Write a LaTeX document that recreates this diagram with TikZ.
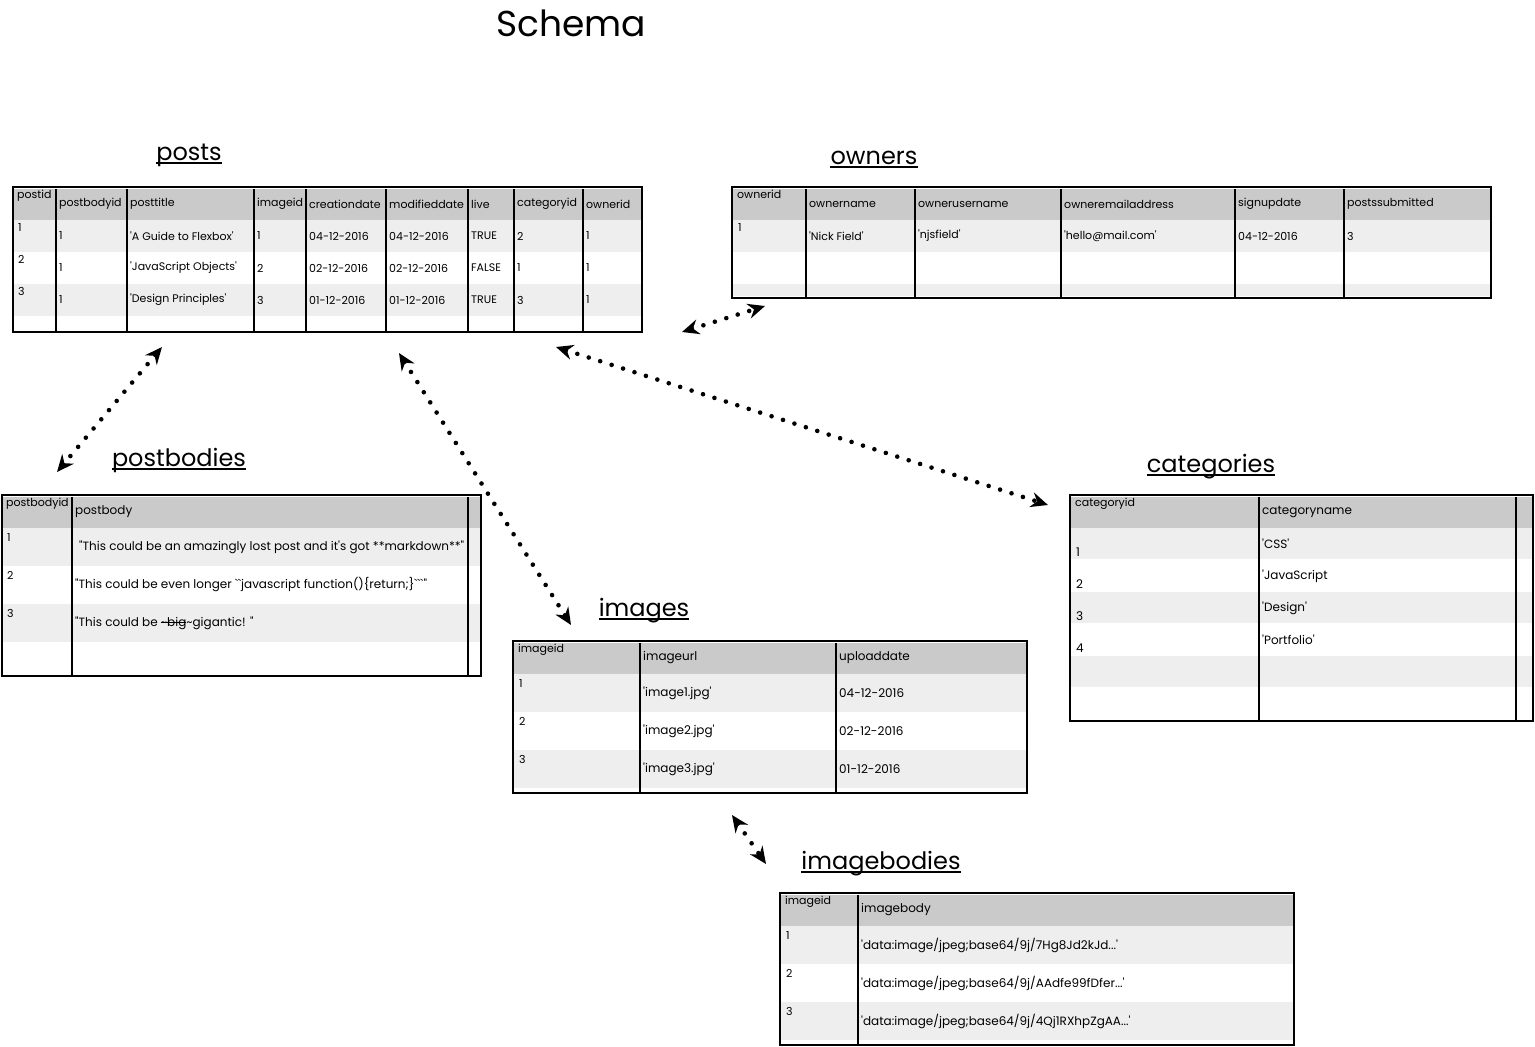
\documentclass[tikz,border=0pt]{standalone}
\usepackage{fontspec}
\usetikzlibrary{arrows.meta}
\newfontfamily\sketchfont{Poppins}[Ligatures=TeXOff]
\newcommand\strikeword[1]{\setbox0\hbox{#1}\rlap{\rule[0.3em]{\wd0}{0.7pt}}\box0}
\definecolor{headgray}{HTML}{CACACA}
\definecolor{rowgray}{HTML}{EEEEEE}
\tikzset{
  frame/.style={draw=black, line width=2.4pt},
  colline/.style={draw=black, line width=1.5pt},
  cell/.style={anchor=west, inner sep=0pt, font=\sketchfont\fontsize{11}{13}\selectfont},
  topcell/.style={cell, anchor=north west},
  widecell/.style={cell, font=\sketchfont\fontsize{12}{14}\selectfont},
  tabletitle/.style={anchor=base, inner sep=0pt, font=\sketchfont\fontsize{24}{28}\selectfont},
  uline/.style={line width=1.5pt},
  link/.style={line width=4.6pt, dash pattern=on 0pt off 12pt, line cap=round,
    {Stealth[length=17pt,width=15pt]}-{Stealth[length=17pt,width=15pt]}},
}
\begin{document}
\begin{tikzpicture}[x=1pt,y=-1pt]
\useasboundingbox (0,0) rectangle (1535,1047);

\node[anchor=base, inner sep=0pt, font=\sketchfont\fontsize{36}{42}\selectfont] (schema) at (571,36) {Schema};

% posts
\node[tabletitle] (postsname) at (189,160) {posts};
\draw[uline] ([yshift=-3pt]postsname.base west) -- ([yshift=-3pt]postsname.base east);
\fill[white] (13,187) rectangle (642,332);
\fill[headgray] (13,189) rectangle (642,220);
\foreach \y in {220,284} \fill[rowgray] (13,\y) rectangle (642,\y+32);
\foreach \x in {56,127,254,306,386,468,514,583} \draw[colline] (\x,189) -- (\x,331);
\draw[frame] (13,187) rectangle (642,332);
\node[topcell] (posts-h0) at (17,190) {postid};
\foreach \x/\t [count=\i] in {59/postbodyid,130/posttitle,257/imageid,309/creationdate,
    389/modifieddate,471/live,517/categoryid,586/ownerid}
  \node[cell] (posts-h\i) at (\x,204) {\t};
\foreach \top/\id/\ttl/\img/\cd/\md/\live/\cat [count=\r] in {
    220/1/'A Guide to Flexbox'/1/04-12-2016/04-12-2016/TRUE/2,
    252/2/'JavaScript Objects'/2/02-12-2016/02-12-2016/FALSE/1,
    284/3/'Design Principles'/3/01-12-2016/01-12-2016/TRUE/3}{
  \node[topcell] (posts-\r-1) at (18,\top+3) {\id};
  \node[cell] (posts-\r-2) at (59,\top+16) {1};
  \node[cell] (posts-\r-3) at (130,\top+16) {\ttl};
  \node[cell] (posts-\r-4) at (257,\top+16) {\img};
  \node[cell] (posts-\r-5) at (309,\top+16) {\cd};
  \node[cell] (posts-\r-6) at (389,\top+16) {\md};
  \node[cell] (posts-\r-7) at (471,\top+16) {\live};
  \node[cell] (posts-\r-8) at (517,\top+16) {\cat};
  \node[cell] (posts-\r-9) at (586,\top+16) {1};
}

% owners
\node[tabletitle] (ownersname) at (874,164) {owners};
\draw[uline] ([yshift=-3pt]ownersname.base west) -- ([yshift=-3pt]ownersname.base east);
\fill[white] (732,187) rectangle (1491,298);
\fill[headgray] (732,189) rectangle (1491,220);
\foreach \y in {220,284} \fill[rowgray] (732,\y) rectangle (1491,{min(\y+32,296)});
\foreach \x in {806,915,1061,1235,1344} \draw[colline] (\x,189) -- (\x,297);
\draw[frame] (732,187) rectangle (1491,298);
\node[topcell] (owners-h0) at (737,190) {ownerid};
\foreach \x/\t [count=\i] in {809/ownername,918/ownerusername,1064/owneremailaddress,
    1238/signupdate,1347/postssubmitted}
  \node[cell] (owners-h\i) at (\x,204) {\t};
\node[topcell] (owners-1-1) at (738,223) {1};
\foreach \x/\t [count=\i from 2] in {809/'Nick Field',918/'njsfield',1064/'hello@mail.com',
    1238/04-12-2016,1347/3}
  \node[cell] (owners-1-\i) at (\x,236) {\t};

% postbodies
\node[tabletitle] (bodiesname) at (179,466) {postbodies};
\draw[uline] ([yshift=-3pt]bodiesname.base west) -- ([yshift=-3pt]bodiesname.base east);
\fill[white] (2,495) rectangle (481,676);
\fill[headgray] (2,497) rectangle (481,528);
\foreach \y in {528,604} \fill[rowgray] (2,\y) rectangle (481,\y+38);
\foreach \x in {72,468} \draw[colline] (\x,497) -- (\x,675);
\draw[frame] (2,495) rectangle (481,676);
\node[topcell] (bodies-h0) at (6,498) {postbodyid};
\node[widecell] (bodies-h1) at (75,512) {postbody};
\foreach \top/\id [count=\r] in {528/1,566/2,604/3}
  \node[topcell] (bodies-\r-1) at (7,\top+5) {\id};
\node[widecell] (bodies-1-2) at (79,547) {"This could be an amazingly lost post and it's got **markdown**"};
\node[widecell] (bodies-2-2) at (75,585) {"This could be even longer ``javascript function()\{return;\}```"};
\node[widecell] (bodies-3-2) at (75,623) {"This could be \strikeword{\textasciitilde big}\textasciitilde gigantic! "};

% categories
\node[tabletitle] (catsname) at (1211,472) {categories};
\draw[uline] ([yshift=-3pt]catsname.base west) -- ([yshift=-3pt]catsname.base east);
\fill[white] (1070,495) rectangle (1533,721);
\fill[headgray] (1070,497) rectangle (1533,528);
\foreach \y in {528,592,656} \fill[rowgray] (1070,\y) rectangle (1533,\y+31);
\foreach \x in {1259,1516} \draw[colline] (\x,497) -- (\x,720);
\draw[frame] (1070,495) rectangle (1533,721);
\node[topcell] (cats-h0) at (1075,498) {categoryid};
\node[widecell] (cats-h1) at (1262,512) {categoryname};
\foreach \y/\id/\t [count=\r] in {544/1/'CSS',576/2/'JavaScript,608/3/'Design',640/4/'Portfolio'}{
  \node[widecell] (cats-\r-1) at (1076,\y+8) {\id};
  \node[widecell] (cats-\r-2) at (1262,\y) {\t};
}

% images
\node[tabletitle] (imagesname) at (644,616) {images};
\draw[uline] ([yshift=-3pt]imagesname.base west) -- ([yshift=-3pt]imagesname.base east);
\fill[white] (513,641) rectangle (1027,793);
\fill[headgray] (513,643) rectangle (1027,674);
\foreach \y in {674,750} \fill[rowgray] (513,\y) rectangle (1027,\y+38);
\foreach \x in {640,836} \draw[colline] (\x,643) -- (\x,792);
\draw[frame] (513,641) rectangle (1027,793);
\node[topcell] (images-h0) at (518,644) {imageid};
\node[widecell] (images-h1) at (643,658) {imageurl};
\node[widecell] (images-h2) at (839,658) {uploaddate};
\foreach \top/\id/\url/\date [count=\r] in {674/1/'image1.jpg'/04-12-2016,
    712/2/'image2.jpg'/02-12-2016,750/3/'image3.jpg'/01-12-2016}{
  \node[topcell] (images-\r-1) at (519,\top+5) {\id};
  \node[widecell] (images-\r-2) at (643,\top+19) {\url};
  \node[widecell] (images-\r-3) at (839,\top+19) {\date};
}

% imagebodies
\node[tabletitle] (ibodiesname) at (881,869) {imagebodies};
\draw[uline] ([yshift=-3pt]ibodiesname.base west) -- ([yshift=-3pt]ibodiesname.base east);
\fill[white] (780,893) rectangle (1294,1045);
\fill[headgray] (780,895) rectangle (1294,926);
\foreach \y in {926,1002} \fill[rowgray] (780,\y) rectangle (1294,\y+38);
\draw[colline] (858,895) -- (858,1044);
\draw[frame] (780,893) rectangle (1294,1045);
\node[topcell] (ibodies-h0) at (785,896) {imageid};
\node[widecell] (ibodies-h1) at (861,910) {imagebody};
\foreach \top/\id [count=\r] in {926/1,964/2,1002/3}
  \node[topcell] (ibodies-\r-1) at (786,\top+5) {\id};
\node[widecell] (ibodies-1-2) at (861,945) {'data:image/jpeg;base64/9j/7Hg8Jd2kJd...'};
\node[widecell] (ibodies-2-2) at (861,983) {'data:image/jpeg;base64/9j/AAdfe99fDfer...'};
\node[widecell] (ibodies-3-2) at (861,1021) {'data:image/jpeg;base64/9j/4Qj1RXhpZgAA...'};

% links
\coordinate (postsA) at (162,347);
\coordinate (bodiesA) at (57,472);
\coordinate (postsB) at (399,353);
\coordinate (imagesA) at (571,625);
\coordinate (postsC) at (682,332);
\coordinate (ownersA) at (765,306);
\coordinate (postsD) at (556,347);
\coordinate (catsA) at (1048,505);
\coordinate (imagesB) at (732,815);
\coordinate (ibodiesA) at (766,864);
\draw[link] (postsA) -- (bodiesA);
\draw[link] (postsB) -- (imagesA);
\draw[link] (postsC) -- (ownersA);
\draw[link] (postsD) -- (catsA);
\draw[link] (imagesB) -- (ibodiesA);
\end{tikzpicture}
\end{document}
